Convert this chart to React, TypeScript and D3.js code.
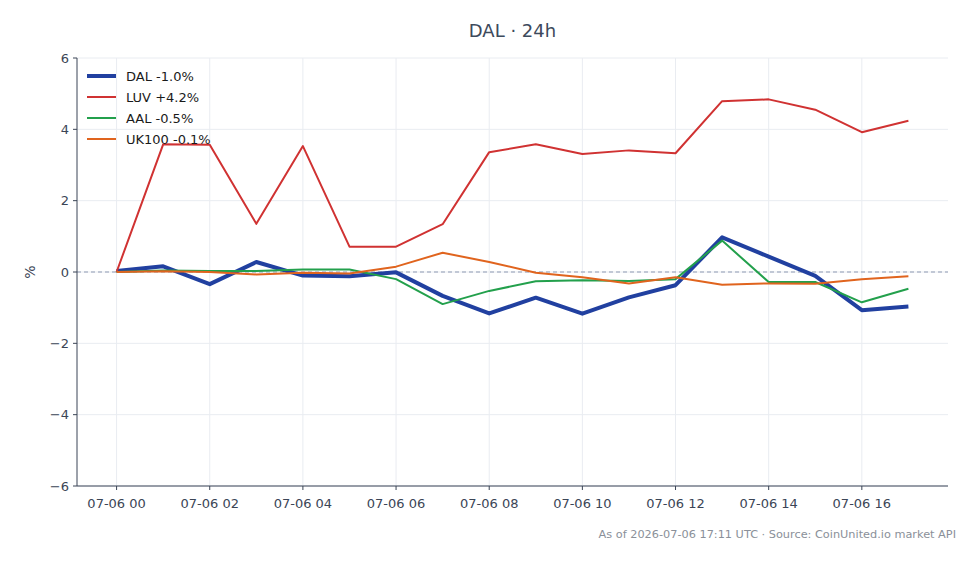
import React from "react";
import * as d3 from "d3";

// hourly change since 07-06 00:00, in percent
const hours = [0, 1, 2, 3, 4, 5, 6, 7, 8, 9, 10, 11, 12, 13, 14, 15, 16, 17];
const dal = [0.03, 0.16, -0.34, 0.28, -0.1, -0.12, -0.01, -0.67, -1.16, -0.72, -1.17, -0.71, -0.37, 0.97, 0.43, -0.11, -1.07, -0.97];
const luv = [0.0, 3.58, 3.57, 1.35, 3.53, 0.71, 0.71, 1.34, 3.36, 3.58, 3.31, 3.41, 3.33, 4.79, 4.84, 4.55, 3.92, 4.24];
const aal = [0.0, 0.04, 0.03, 0.03, 0.07, 0.07, -0.2, -0.9, -0.53, -0.26, -0.23, -0.25, -0.2, 0.88, -0.28, -0.28, -0.85, -0.47];
const uk100 = [0.0, 0.02, 0.0, -0.07, -0.02, -0.04, 0.15, 0.54, 0.28, -0.02, -0.15, -0.32, -0.15, -0.36, -0.32, -0.33, -0.2, -0.12];

const xTicks = [0, 2, 4, 6, 8, 10, 12, 14, 16];
const yTicks = [-6, -4, -2, 0, 2, 4, 6];

const series = [
  { name: "DAL", values: dal, color: "#2140a0", width: 4 },
  { name: "LUV", values: luv, color: "#d03232", width: 2 },
  { name: "AAL", values: aal, color: "#23a04c", width: 2 },
  { name: "UK100", values: uk100, color: "#e0641e", width: 2 },
];

const W = 980;
const H = 564;
const m = { left: 77, right: 948, top: 58, bottom: 486 };
const font = "DejaVu Sans, sans-serif";
const axisColor = "#3b4556";

function fmtPct(v: number) {
  return (v >= 0 ? "+" : "-") + Math.abs(v).toFixed(1) + "%";
}

export default function App() {
  const x = d3.scaleLinear().domain([-0.85, 17.85]).range([m.left, m.right]);
  const y = d3.scaleLinear().domain([-6, 6]).range([m.bottom, m.top]);

  const line = d3
    .line<number>()
    .x((_, i) => x(hours[i]))
    .y((v) => y(v));

  return (
    <svg
      width={W}
      height={H}
      style={{ position: "absolute", left: 0, top: 0, background: "#fff" }}
      fontFamily={font}
    >
      {/* grid */}
      {xTicks.map((t) => (
        <line key={"gx" + t} x1={x(t)} x2={x(t)} y1={m.top} y2={m.bottom} stroke="#e9ecf1" strokeWidth={1} />
      ))}
      {yTicks.map((t) => (
        <line key={"gy" + t} x1={m.left} x2={m.right} y1={y(t)} y2={y(t)} stroke="#e9ecf1" strokeWidth={1} />
      ))}

      {/* zero reference */}
      <line x1={m.left} x2={m.right} y1={y(0)} y2={y(0)} stroke="#8f9bb3" strokeWidth={1} strokeDasharray="4,3" />

      {/* series */}
      {series.map((s) => (
        <path
          key={s.name}
          d={line(s.values) || ""}
          fill="none"
          stroke={s.color}
          strokeWidth={s.width}
          strokeLinejoin="round"
        />
      ))}

      {/* axes */}
      <line x1={m.left} x2={m.left} y1={m.top} y2={m.bottom} stroke={axisColor} strokeWidth={1} />
      <line x1={m.left} x2={m.right} y1={m.bottom} y2={m.bottom} stroke={axisColor} strokeWidth={1} />
      {yTicks.map((t) => (
        <g key={"ty" + t}>
          <line x1={m.left - 4} x2={m.left} y1={y(t)} y2={y(t)} stroke={axisColor} />
          <text x={m.left - 8} y={y(t)} dy="0.35em" textAnchor="end" fontSize={13} fill={axisColor}>
            {t < 0 ? "\u2212" + Math.abs(t) : t}
          </text>
        </g>
      ))}
      {xTicks.map((t) => (
        <g key={"tx" + t}>
          <line x1={x(t)} x2={x(t)} y1={m.bottom} y2={m.bottom + 4} stroke={axisColor} />
          <text x={x(t)} y={m.bottom + 22} textAnchor="middle" fontSize={13} fill={axisColor}>
            {"07-06 " + String(t).padStart(2, "0")}
          </text>
        </g>
      ))}
      <text
        transform={`translate(35,${y(0)}) rotate(-90)`}
        textAnchor="middle"
        fontSize={14}
        fill={axisColor}
      >
        %
      </text>

      {/* title */}
      <text x={(m.left + m.right) / 2} y={37} textAnchor="middle" fontSize={18} fill="#3d4a5c">
        DAL · 24h
      </text>

      {/* legend */}
      {series.map((s, i) => (
        <g key={"lg" + s.name} transform={`translate(87,${76 + i * 21})`}>
          <line x1={0} x2={29} y1={0} y2={0} stroke={s.color} strokeWidth={s.width} />
          <text x={39} y={0} dy="0.35em" fontSize={13} fill="#1a1a1a">
            {s.name + " " + fmtPct(s.values[s.values.length - 1])}
          </text>
        </g>
      ))}

      {/* footer */}
      <text x={956} y={538} textAnchor="end" fontSize={11.3} fill="#8a9099">
        As of 2026-07-06 17:11 UTC · Source: CoinUnited.io market API
      </text>
    </svg>
  );
}
